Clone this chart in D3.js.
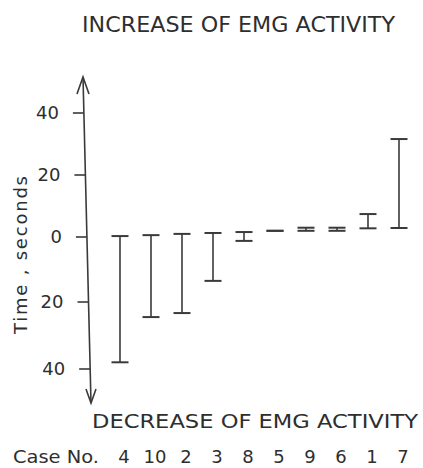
<!DOCTYPE html>
<html>
<head>
<meta charset="utf-8">
<script src="https://cdn.jsdelivr.net/npm/d3@7"></script>
<style>
  html, body { margin: 0; padding: 0; background: #fff; }
  svg { display: block; }
  text { font-family: "DejaVu Sans", sans-serif; fill: #2e2e2e; }
</style>
</head>
<body>
<script>
// ---- data ----
const cases = ["4", "10", "2", "3", "8", "5", "9", "6", "1", "7"];
const lowValues = [-38, -24.5, -23.3, -13.5, -1.2, 2, 2, 2, 2.8, 2.9];
const highValues = [0.3, 0.6, 1, 1.3, 1.6, 2, 3, 3, 7.4, 31.6];
const tickValues = [40, 20, 0, -20, -40];
const tickLabels = ["40", "20", "0", "20", "40"];
const titleTop = "INCREASE OF EMG ACTIVITY";
const titleBottom = "DECREASE OF EMG ACTIVITY";
const yLabel = "Time  ,  seconds";
const caseLabel = "Case No.";

const W = 423, H = 468;
const svg = d3.select("body").append("svg").attr("width", W).attr("height", H);

const x = d3.scalePoint().domain(cases).range([120, 399]);
const y = d3.scaleLinear().domain([-40, -20, 0, 20, 40]).range([369, 302, 237, 175, 113]);
// slight skew of the hand-drawn axis
const axisX = d3.scaleLinear().domain([77, 403]).range([83, 91]);

const ink = "#3a3a3a";

// y axis line with arrows
const yTop = 77, yBot = 403;
svg.append("line")
  .attr("x1", axisX(yTop)).attr("y1", yTop)
  .attr("x2", axisX(yBot)).attr("y2", yBot)
  .attr("stroke", ink).attr("stroke-width", 1.6);
svg.append("path")
  .attr("d", `M${axisX(yTop) - 6},${yTop + 17} L${axisX(yTop)},${yTop} L${axisX(yTop) + 6},${yTop + 17}`)
  .attr("fill", "none").attr("stroke", ink).attr("stroke-width", 1.6);
svg.append("path")
  .attr("d", `M${axisX(yBot) - 5},${yBot - 14} L${axisX(yBot)},${yBot} L${axisX(yBot) + 5},${yBot - 14}`)
  .attr("fill", "none").attr("stroke", ink).attr("stroke-width", 1.6);

// ticks
const ticks = svg.append("g").selectAll("g").data(tickValues).join("g");
ticks.append("line")
  .attr("x1", d => axisX(y(d)) - 11).attr("x2", d => axisX(y(d)))
  .attr("y1", d => y(d)).attr("y2", d => y(d))
  .attr("stroke", ink).attr("stroke-width", 1.6);
ticks.append("text")
  .attr("x", d => axisX(y(d)) - 25)
  .attr("y", d => y(d))
  .attr("dy", "0.36em")
  .attr("text-anchor", "end")
  .attr("font-size", 18)
  .text((d, i) => tickLabels[i]);

// y label
svg.append("text")
  .attr("transform", "translate(27,255) rotate(-90)")
  .attr("text-anchor", "middle")
  .attr("font-size", 18)
  .attr("textLength", 158)
  .attr("lengthAdjust", "spacing")
  .text(yLabel);

// error bars
const capW = 17;
const bars = svg.append("g").selectAll("g").data(cases).join("g");
bars.append("line")
  .attr("x1", d => x(d)).attr("x2", d => x(d))
  .attr("y1", (d, i) => y(highValues[i])).attr("y2", (d, i) => y(lowValues[i]))
  .attr("stroke", ink).attr("stroke-width", 1.6);
bars.append("line")
  .attr("x1", d => x(d) - capW / 2).attr("x2", d => x(d) + capW / 2)
  .attr("y1", (d, i) => y(highValues[i])).attr("y2", (d, i) => y(highValues[i]))
  .attr("stroke", ink).attr("stroke-width", 2);
bars.append("line")
  .attr("x1", d => x(d) - capW / 2).attr("x2", d => x(d) + capW / 2)
  .attr("y1", (d, i) => y(lowValues[i])).attr("y2", (d, i) => y(lowValues[i]))
  .attr("stroke", ink).attr("stroke-width", 2);

// titles
svg.append("text")
  .attr("x", 82).attr("y", 32)
  .attr("font-size", 21)
  .attr("textLength", 313)
  .attr("lengthAdjust", "spacingAndGlyphs")
  .text(titleTop);
svg.append("text")
  .attr("x", 92).attr("y", 428)
  .attr("font-size", 19.5)
  .attr("textLength", 326)
  .attr("lengthAdjust", "spacingAndGlyphs")
  .text(titleBottom);

// case labels
svg.append("text")
  .attr("x", 13).attr("y", 463)
  .attr("font-size", 18)
  .attr("textLength", 86)
  .attr("lengthAdjust", "spacingAndGlyphs")
  .text(caseLabel);
svg.append("g").selectAll("text").data(cases).join("text")
  .attr("x", d => x(d) + 4)
  .attr("y", 463)
  .attr("text-anchor", "middle")
  .attr("font-size", 18)
  .text(d => d);
</script>
</body>
</html>
